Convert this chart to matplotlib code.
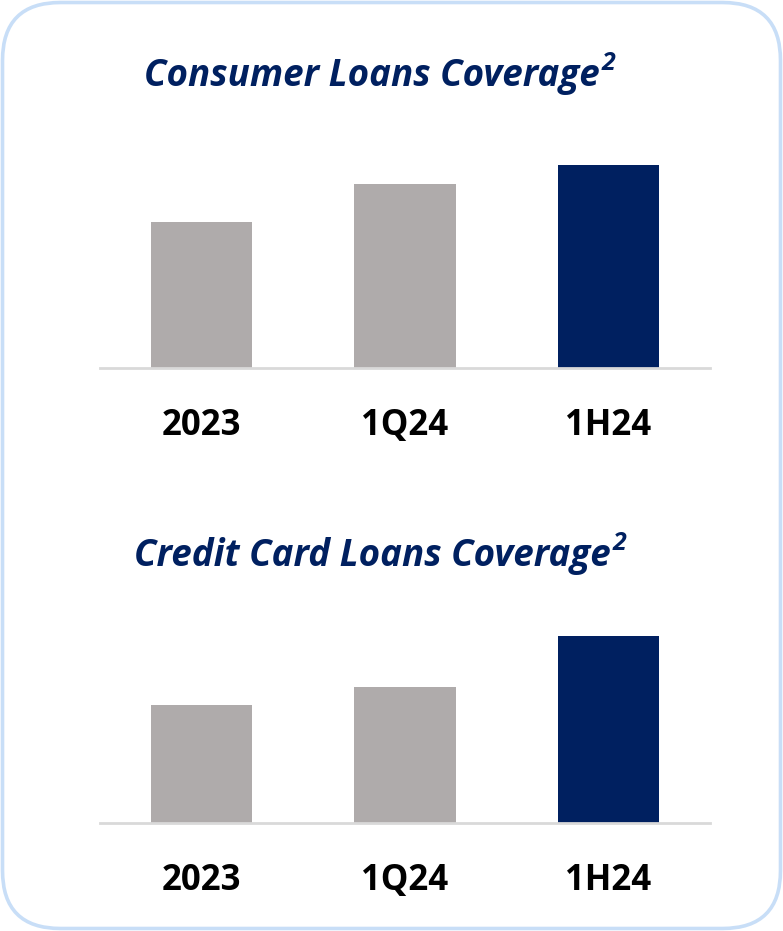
import matplotlib.pyplot as plt
from matplotlib.patches import FancyBboxPatch

# data (relative heights, no value labels shown)
periods = ['2023', '1Q24', '1H24']
consumer_cov = [146, 184, 203]
card_cov = [118, 136, 187]
titles = ['Consumer Loans Coverage', 'Credit Card Loans Coverage']
note = '2'

gray = '#AFABAB'
navy = '#002060'
bar_colors = [gray, gray, navy]

W, H = 783, 931
fig = plt.figure(figsize=(W / 100, H / 100), dpi=100)
fig.patch.set_facecolor('white')

# rounded light blue frame, drawn in inches so corners stay round
frame = FancyBboxPatch((0.025, 0.025), W / 100 - 0.05, H / 100 - 0.05,
                       boxstyle='round,pad=0,rounding_size=0.58',
                       transform=fig.dpi_scale_trans, facecolor='none',
                       edgecolor='#C8DEF7', linewidth=2.6)
fig.add_artist(frame)


def panel(values, title, base_px, title_px, title_left):
    ymax = 215
    ax = fig.add_axes([100 / W, (H - base_px) / H, 610 / W, ymax / H])
    x = range(len(values))
    ax.bar(x, values, width=0.5, color=bar_colors)
    ax.set_xlim(-0.5, 2.5)
    ax.set_ylim(0, ymax)
    for s in ['top', 'right', 'left']:
        ax.spines[s].set_visible(False)
    ax.spines['bottom'].set_color('#D9D9D9')
    ax.spines['bottom'].set_linewidth(2)
    ax.set_yticks([])
    ax.set_xticks(list(x))
    ax.set_xticklabels(periods, fontsize=25, fontweight='bold',
                       family='Open Sans', color='black')
    ax.tick_params(axis='x', length=0, pad=29)
    ax.patch.set_alpha(0)
    t = fig.text(title_left / W, 1 - title_px / H, title, ha='left',
                 va='baseline', fontsize=26.5, fontweight='bold',
                 style='italic', family='Open Sans', color=navy)
    # superscript footnote mark
    ax.annotate(note, xy=(1, 1), xycoords=t, xytext=(1, 4),
                textcoords='offset points', ha='left', va='top',
                fontsize=18, fontweight='bold', style='italic',
                family='Open Sans', color=navy, annotation_clip=False)


panel(consumer_cov, titles[0], 368, 86, 144)
panel(card_cov, titles[1], 823, 566, 134)

plt.savefig('out.png', dpi=100)
